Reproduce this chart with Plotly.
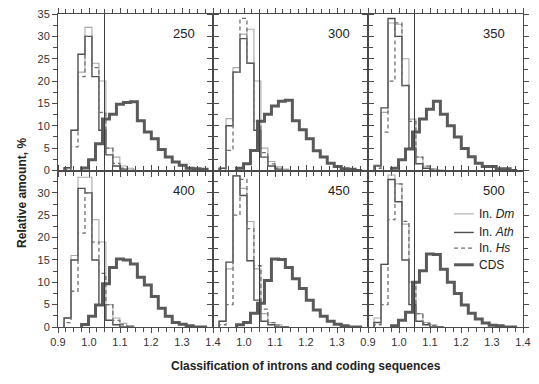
import plotly.graph_objects as go
from plotly.subplots import make_subplots

# ---- data ----
panel_labels = ["250", "300", "350", "400", "450", "500"]
intron_bins = [0.9195, 0.942, 0.9645, 0.987, 1.0095, 1.032, 1.0545, 1.077, 1.0995, 1.122, 1.1445]
cds_bins = [0.976, 0.9985, 1.021, 1.0435, 1.066, 1.0885, 1.111, 1.1335, 1.156, 1.1785,
            1.201, 1.2235, 1.246, 1.2685, 1.291, 1.3135, 1.336, 1.3585, 1.381]
threshold = 1.05

dm_250 = [0.4, 9.0, 22, 32, 24, 20, 5, 3, 1, 0.5]
ath_250 = [0.6, 9.0, 26, 30, 21, 9, 3.5, 1.0, 0.3, 0]
hs_250 = [0.2, 5.3, 21, 30, 23, 13, 5, 1.6, 0.5, 0]
cds_250 = [0.55, 2.4, 6.0, 11.5, 12.6, 14.8, 15.2, 15.4, 11.1, 8.6, 7.1, 4.7, 3.0, 1.9, 1.2, 0.5, 0.4, 0.3]

dm_300 = [0.5, 11.6, 23, 30.5, 31.6, 20, 5, 2, 0.8, 0.3]
ath_300 = [0.5, 10, 22, 29.5, 24, 9, 3, 1, 0.3, 0]
hs_300 = [0.3, 4.5, 22, 34, 24, 11, 4, 1.5, 0.5, 0]
cds_300 = [0.5, 1.5, 4.5, 11, 12.6, 14.4, 15.5, 15.7, 11.1, 9.1, 7.1, 4.4, 3.0, 1.6, 0.9, 0.4, 0.3, 0]

dm_350 = [1.2, 13, 33, 32.7, 25, 11.5, 3, 1, 0.4, 0]
ath_350 = [1.0, 14, 34, 30, 19, 5, 1.5, 0.5, 0, 0]
hs_350 = [0.5, 8.6, 20, 33, 19, 11, 3, 1.0, 0.3, 0]
cds_350 = [0.5, 2.4, 4.8, 8.6, 11.5, 13.7, 15.5, 12.6, 10.0, 7.5, 4.9, 3.1, 1.6, 0.9, 0.9, 0.4, 0.4, 0]

dm_400 = [2, 16, 33.5, 33.5, 24, 19, 5, 2, 0.8, 0.3]
ath_400 = [2.0, 15, 31, 30, 15, 5, 1.5, 0.5, 0, 0]
hs_400 = [1, 8, 21, 30, 19, 12, 5, 1.5, 0.5, 0]
cds_400 = [0.55, 2.4, 4.9, 9.7, 13.3, 15.2, 15.0, 14.1, 11.1, 9.4, 6.8, 4.2, 2.4, 1.0, 0.6, 0.3, 0, 0]

dm_450 = [1.3, 13, 33.8, 31, 23.6, 13, 3, 1, 0.5, 0]
ath_450 = [1.3, 14.5, 33.8, 29.4, 14.8, 6, 1.3, 0.5, 0, 0]
hs_450 = [0.5, 5, 25, 33, 22, 13.7, 4, 1.0, 0.4, 0]
cds_450 = [0.5, 1.0, 3.1, 5.3, 10.4, 15.2, 15.1, 13.3, 10.8, 8.6, 6.0, 3.8, 2.4, 1.3, 0.6, 0.3, 0, 0]

dm_500 = [2, 14, 34, 32, 23, 10, 3, 1, 0.5, 0]
ath_500 = [1.0, 14, 33, 28, 15, 5, 1.3, 0.5, 0, 0]
hs_500 = [0.5, 5, 24, 32, 23.6, 9.7, 3, 0.8, 0.3, 0]
cds_500 = [0.3, 1.5, 3.3, 10, 12.6, 16.3, 16.2, 12.9, 10.0, 7.5, 4.9, 3.1, 1.8, 0.9, 0.4, 0.3, 0, 0]

panels = [
    (dm_250, ath_250, hs_250, cds_250),
    (dm_300, ath_300, hs_300, cds_300),
    (dm_350, ath_350, hs_350, cds_350),
    (dm_400, ath_400, hs_400, cds_400),
    (dm_450, ath_450, hs_450, cds_450),
    (dm_500, ath_500, hs_500, cds_500),
]
series_names = ["In. <i>Dm</i>", "In. <i>Ath</i>", "In. <i>Hs</i>", "CDS"]

# ---- styles ----
FONT = "Liberation Sans, Arial, sans-serif"
AX = "#4a4a4a"
W, H = 539, 384
L, R, T, B = 58, 9, 8, 56.5
PW, PH = W - L - R, H - T - B
styles = [
    dict(color="#a9a9a9", width=1.1, dash="solid"),
    dict(color="#505050", width=1.4, dash="solid"),
    dict(color="#707070", width=1.3, dash="4px,3px"),
    dict(color="#5a5a5a", width=3, dash="solid"),
]


def px_x(px):
    return (px - L) / PW


def px_y(py):
    return (H - B - py) / PH


def step_xy(edges, vals):
    xs = [edges[0]] + list(edges[: len(vals) + 1])
    ys = [0] + list(vals) + [0]
    return xs, ys


fig = make_subplots(rows=2, cols=3, horizontal_spacing=0, vertical_spacing=0)

for p, data in enumerate(panels):
    r, c = p // 3 + 1, p % 3 + 1
    for s, vals in enumerate(data):
        edges = cds_bins if s == 3 else intron_bins
        xs, ys = step_xy(edges, vals)
        fig.add_trace(
            go.Scatter(x=xs, y=ys, mode="lines", line_shape="hv", line=styles[s],
                       name=series_names[s], showlegend=False, hoverinfo="skip"),
            row=r, col=c,
        )
    fig.add_trace(
        go.Scatter(x=[threshold, threshold], y=[0, 35], mode="lines",
                   line=dict(color="#3c3c3c", width=1), showlegend=False, hoverinfo="skip"),
        row=r, col=c,
    )
    axn = "" if p == 0 else str(p + 1)
    fig.add_annotation(x=1.307, y=30.6, xref="x" + axn, yref="y" + axn, text=panel_labels[p],
                       showarrow=False, font=dict(family=FONT, size=13, color="#222"))

for p in range(6):
    r, c = p // 3 + 1, p % 3 + 1
    if r == 2:
        tv = [1.0, 1.1, 1.2, 1.3] if c == 2 else [0.9, 1.0, 1.1, 1.2, 1.3, 1.4]
        xtl = True
    else:
        tv = [0.9, 1.0, 1.1, 1.2, 1.3, 1.4]
        xtl = False
    fig.update_xaxes(
        range=[0.9, 1.4], tickvals=tv, ticktext=[f"{v:.1f}" for v in tv], showticklabels=xtl,
        ticks="outside", ticklen=5, tickwidth=1, tickcolor=AX, showline=True, linecolor=AX,
        linewidth=1, mirror="allticks", showgrid=False, zeroline=False,
        minor=dict(tickvals=[0.925, 0.95, 0.975, 1.025, 1.05, 1.075, 1.125, 1.15, 1.175,
                             1.225, 1.25, 1.275, 1.325, 1.35, 1.375],
                   ticks="outside", ticklen=4, tickcolor=AX, showgrid=False),
        tickfont=dict(family=FONT, size=11, color="#333"),
        row=r, col=c,
    )
    ytv = [0, 5, 10, 15, 20, 25, 30, 35] if r == 1 else [0, 5, 10, 15, 20, 25, 30]
    fig.update_yaxes(
        range=[0, 35], tickvals=ytv, showticklabels=(c == 1),
        ticks="outside", ticklen=5, tickwidth=1, tickcolor=AX, showline=True, linecolor=AX,
        linewidth=1, mirror="allticks", showgrid=False, zeroline=False,
        minor=dict(tickvals=[2.5, 7.5, 12.5, 17.5, 22.5, 27.5, 32.5], ticks="outside",
                   ticklen=4, tickcolor=AX, showgrid=False),
        tickfont=dict(family=FONT, size=11, color="#333"),
        row=r, col=c,
    )

# ---- manual legend in last panel ----
leg_rows = [212, 231, 247, 264]
for s, yy in enumerate(leg_rows):
    fig.add_shape(type="line", xref="paper", yref="paper", x0=px_x(460), x1=px_x(480),
                  y0=px_y(yy), y1=px_y(yy),
                  line=dict(color=styles[s]["color"], width=styles[s]["width"], dash=styles[s]["dash"]))
    fig.add_annotation(xref="paper", yref="paper", x=px_x(483), y=px_y(yy),
                       xanchor="left", yanchor="middle", text=series_names[s], showarrow=False,
                       font=dict(family=FONT, size=12, color="#222"))

# axis titles
fig.add_annotation(xref="paper", yref="paper", x=px_x(310), y=px_y(376),
                   text="<b>Classification of introns and coding sequences</b>", showarrow=False,
                   font=dict(family=FONT, size=12, color="#222"))
fig.add_annotation(xref="paper", yref="paper", x=px_x(13), y=px_y(191),
                   text="<b>Relative amount, %</b>", textangle=-90, showarrow=False,
                   font=dict(family=FONT, size=12, color="#222"))

fig.update_layout(
    width=W, height=H, margin=dict(l=L, r=R, t=T, b=B),
    paper_bgcolor="white", plot_bgcolor="white", showlegend=False,
)

fig.write_html("out.html", config={"displayModeBar": False},
               post_script="document.body.style.margin='0px';")
